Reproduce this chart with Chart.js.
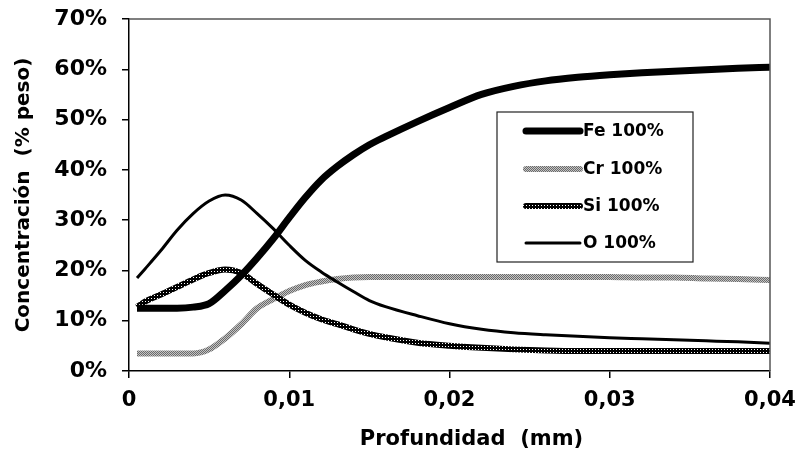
<!DOCTYPE html>
<html>
<head>
<meta charset="utf-8">
<script src="https://cdn.jsdelivr.net/npm/chart.js@4.4.1/dist/chart.umd.min.js"></script>
<style>
  html, body { margin: 0; padding: 0; background: #fff; }
  #wrap { width: 799px; height: 466px; }
</style>
</head>
<body>
<div id="wrap"><canvas id="chart" width="799" height="466"></canvas></div>
<script>
// profundidad (mm)
const depth = [0.0005, 0.001, 0.002, 0.003, 0.004, 0.005, 0.006, 0.007, 0.008, 0.009, 0.010, 0.011, 0.012, 0.013, 0.014, 0.015, 0.016, 0.018, 0.020, 0.022, 0.024, 0.026, 0.028, 0.030, 0.032, 0.034, 0.036, 0.038, 0.040];
// concentración (% peso)
const fe = [12.5, 12.5, 12.5, 12.5, 12.7, 13.4, 16.0, 19.0, 22.5, 26.3, 30.5, 34.5, 38.0, 40.7, 43.0, 45.0, 46.6, 49.6, 52.4, 55.0, 56.6, 57.7, 58.4, 58.9, 59.3, 59.6, 59.9, 60.2, 60.4];
const cr = [3.5, 3.5, 3.5, 3.5, 3.5, 4.3, 6.5, 9.3, 12.5, 14.3, 15.9, 17.1, 17.8, 18.3, 18.6, 18.7, 18.7, 18.7, 18.7, 18.7, 18.7, 18.7, 18.7, 18.7, 18.6, 18.6, 18.4, 18.3, 18.1];
const si = [12.7, 13.8, 15.2, 16.7, 18.2, 19.5, 20.2, 19.5, 17.3, 15.2, 13.2, 11.6, 10.3, 9.3, 8.3, 7.4, 6.7, 5.6, 5.0, 4.6, 4.3, 4.1, 4.0, 4.0, 4.0, 4.0, 4.0, 4.0, 4.0];
const ox = [18.5, 20.3, 24.0, 28.0, 31.3, 33.8, 35.0, 34.0, 31.3, 28.3, 25.0, 22.0, 19.7, 17.7, 15.8, 14.0, 12.8, 11.0, 9.4, 8.3, 7.6, 7.2, 6.9, 6.6, 6.4, 6.2, 6.0, 5.8, 5.5];
const seriesNames = ["Fe 100%", "Cr 100%", "Si 100%", "O 100%"];
const yTicks = [0, 10, 20, 30, 40, 50, 60, 70];
const xTicks = [0, 0.01, 0.02, 0.03, 0.04];

const FONT = "'DejaVu Sans', sans-serif";

// patrones para las líneas de Cr y Si
function makePattern(size, paint) {
  const c = document.createElement("canvas");
  c.width = size; c.height = size;
  const g = c.getContext("2d");
  paint(g);
  return g.createPattern(c, "repeat");
}
const crPattern = makePattern(2, (g) => {
  g.fillStyle = "#c4c4c4"; g.fillRect(0, 0, 2, 2);
  g.fillStyle = "#6a6a6a"; g.fillRect(0, 0, 1, 1); g.fillRect(1, 1, 1, 1);
});
const siPattern = makePattern(3, (g) => {
  g.fillStyle = "#000"; g.fillRect(0, 0, 3, 3);
  g.fillStyle = "#fff"; g.fillRect(1, 1, 1, 1);
});

const toPts = (arr) => arr.map((v, i) => ({ x: depth[i], y: v }));

// marco superior y derecho + título del eje x + leyenda
const extras = {
  id: "extras",
  afterDraw(chart) {
    const { ctx, chartArea: a } = chart;
    ctx.save();
    ctx.strokeStyle = "#555";
    ctx.lineWidth = 1.5;
    ctx.beginPath();
    ctx.moveTo(a.left, a.top);
    ctx.lineTo(a.right, a.top);
    ctx.lineTo(a.right, a.bottom);
    ctx.stroke();

    ctx.fillStyle = "#000";
    ctx.font = "bold 21px " + FONT;
    ctx.textAlign = "center";
    ctx.textBaseline = "middle";
    ctx.fillText("Profundidad  (mm)", (a.left + a.right) / 2 + 22, 440);

    // leyenda
    const bx = a.left + 368, by = a.top + 93, bw = 196, bh = 150;
    ctx.fillStyle = "#fff";
    ctx.fillRect(bx, by, bw, bh);
    ctx.strokeStyle = "#222";
    ctx.lineWidth = 1.2;
    ctx.strokeRect(bx, by, bw, bh);
    const rows = [19, 57, 94, 131];
    ctx.font = "bold 17px " + FONT;
    ctx.textAlign = "left";
    chart.data.datasets.forEach((ds, i) => {
      const y = by + rows[i];
      ctx.strokeStyle = ds.borderColor;
      ctx.lineWidth = ds.borderWidth;
      ctx.lineCap = "round";
      ctx.beginPath();
      ctx.moveTo(bx + 29, y);
      ctx.lineTo(bx + 83, y);
      ctx.stroke();
      ctx.fillStyle = "#000";
      ctx.fillText(ds.label, bx + 86, y + 1);
    });
    ctx.restore();
  }
};

new Chart(document.getElementById("chart"), {
  type: "line",
  data: {
    datasets: [
      { label: seriesNames[0], data: toPts(fe), borderColor: "#000", borderWidth: 7, order: 1 },
      { label: seriesNames[1], data: toPts(cr), borderColor: crPattern, borderWidth: 6, order: 4 },
      { label: seriesNames[2], data: toPts(si), borderColor: siPattern, borderWidth: 6, order: 2 },
      { label: seriesNames[3], data: toPts(ox), borderColor: "#000", borderWidth: 3, order: 3 },
    ],
  },
  options: {
    responsive: false,
    animation: false,
    layout: { padding: { top: 19, right: 29, left: 0, bottom: 0 } },
    elements: {
      point: { radius: 0 },
      line: { cubicInterpolationMode: "monotone", fill: false },
    },
    plugins: { legend: { display: false }, tooltip: { enabled: false } },
    scales: {
      x: {
        type: "linear",
        min: 0,
        max: 0.04,
        afterFit: (s) => { s.height = 95; s.paddingLeft = 0; s.paddingRight = 0; },
        afterBuildTicks: (s) => { s.ticks = xTicks.map((v) => ({ value: v })); },
        grid: { drawOnChartArea: false, tickLength: 7, color: "#000", lineWidth: 1.5 },
        border: { color: "#000", width: 1.5 },
        ticks: {
          color: "#000",
          padding: 10,
          maxRotation: 0,
          font: { family: FONT, size: 21, weight: "bold" },
          callback: (v) => (v === 0 ? "0" : String(+v.toFixed(2)).replace(".", ",")),
        },
      },
      y: {
        min: 0,
        max: 70,
        afterFit: (s) => { s.width = 129; s.paddingTop = 0; s.paddingBottom = 0; },
        afterBuildTicks: (s) => { s.ticks = yTicks.map((v) => ({ value: v })); },
        grid: { drawOnChartArea: false, tickLength: 7, color: "#000", lineWidth: 1.5 },
        border: { color: "#000", width: 1.5 },
        ticks: {
          color: "#000",
          padding: 15,
          font: { family: FONT, size: 22, weight: "bold" },
          callback: (v) => v + "%",
        },
        title: {
          display: true,
          text: "Concentración  (% peso)",
          color: "#000",
          padding: { top: 12 },
          font: { family: FONT, size: 20, weight: "bold" },
        },
      },
    },
  },
  plugins: [extras],
});
</script>
</body>
</html>
